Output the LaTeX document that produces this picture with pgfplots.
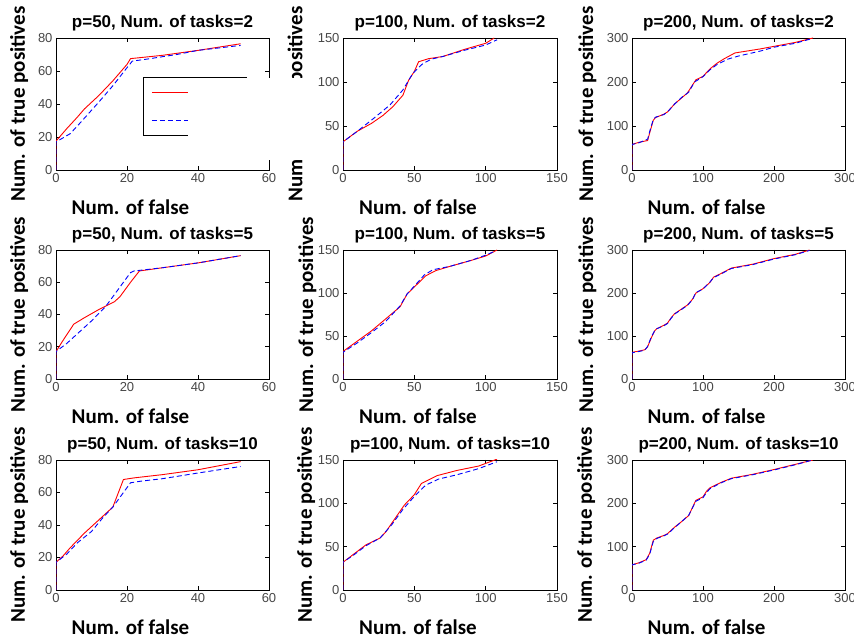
\documentclass[border=0pt]{standalone}
\usepackage{fontspec}
\setmainfont{Liberation Sans}
\newfontfamily\labfont{Carlito}
\usepackage{pgfplots}
\pgfplotsset{compat=1.18}

\pgfplotsset{
  panel/.style={
    scale only axis, width=213pt,
    xmin=0, ymin=0,
    axis line style={black, line width=0.8pt},
    tick align=inside, major tick length=4pt,
    tick style={black, line width=0.6pt},
    every tick label/.append style={font=\fontsize{13}{15}\selectfont, text=black!72},
    /pgf/number format/assume math mode=true,
    every axis title/.style={at={(0.5,1)}, anchor=base, yshift=10.5pt,
      font=\fontsize{17}{20}\selectfont\bfseries},
    every axis x label/.style={at={(axis description cs:0.5,0)}, anchor=base,
      xshift=-32pt, yshift=-45pt, font=\labfont\bfseries\fontsize{21}{24}\selectfont},
    every axis y label/.style={at={(axis description cs:#1,0.5)}, rotate=90,
      anchor=base, font=\labfont\bfseries\fontsize{21}{24}\selectfont},
    xlabel={Num. of false}, ylabel={Num. of true positives},
  },
  p50/.style={xmax=60, ymax=80, xtick={0,20,40,60}, ytick={0,20,40,60,80}},
  p100/.style={xmax=150, ymax=150, xtick={0,50,100,150}, ytick={0,50,100,150}},
  p200/.style={xmax=300, ymax=300, xtick={0,100,200,300}, ytick={0,100,200,300}},
  rline/.style={red, line width=0.9pt},
  bline/.style={blue, line width=0.9pt, dash pattern=on 5pt off 3pt},
}

\begin{document}
\begin{tikzpicture}
\useasboundingbox (0,0) rectangle (854pt,642pt);
\clip (0,0) rectangle (854pt,642pt);

% row 1
\begin{axis}[panel=-0.146, p50, at={(56pt,472pt)}, anchor=south west, height=132pt,
  title={p=50, Num. of tasks=2},
  legend style={at={(0.408,0.705)}, anchor=north west, draw=black, line width=0.8pt,
    fill=white, inner xsep=8pt, inner ysep=11pt, row sep=19pt, nodes={inner sep=0pt}},
  legend image code/.code={\draw[#1] (0pt,0pt) -- (37pt,0pt);}]
\addplot[rline] coordinates {(0,0) (0,17.5) (1,20) (3,25) (6,32) (8,37) (12,45) (16,54) (20,64) (21,67.5) (30,69.5) (40,72.5) (52,76.5)};
\addlegendentry{\makebox[49pt]{\rule[-7pt]{0pt}{14pt}}}
\addplot[bline] coordinates {(0,0) (0,17) (4,22) (7,29) (12,41) (16,51) (20,62) (21.5,66) (25,67) (34,70) (40,72.5) (52,75.5)};
\addlegendentry{\makebox[49pt]{\rule[-10pt]{0pt}{17pt}}}
\end{axis}

\begin{axis}[panel=-0.19, p100, at={(343pt,472pt)}, anchor=south west, height=132pt,
  width=214pt, title={p=100, Num. of tasks=2}]
\addplot[rline] coordinates {(0,0) (0,32) (10,44) (20,53) (28,62) (35,72) (42,85) (46,102) (50,112) (53,123) (60,126.5) (70,129) (85,137) (100,144) (106,150)};
\addplot[bline] coordinates {(0,0) (0,32) (10,44) (21,58) (33,74) (42,91) (49,110) (56,121) (62,126) (70,129) (85,136) (100,142) (108,148)};
\end{axis}

\begin{axis}[panel=-0.183, p200, at={(632pt,472pt)}, anchor=south west, height=132pt,
  title={p=200, Num. of tasks=2}]
\addplot[rline] coordinates {(0,0) (0,58) (10,63) (22,67) (25,85) (30,113) (33,119) (45,127) (50,132) (60,150) (70,164) (78,175) (84,190) (90,205) (100,213) (110,230) (120,243) (130,253) (145,266) (180,275) (200,281) (230,290) (255,300)};
\addplot[bline] coordinates {(0,0) (0,58) (10,62) (22,70) (25,88) (30,115) (33,120) (45,126) (50,132) (60,150) (70,165) (80,177) (88,200) (100,212) (110,228) (120,240) (135,252) (150,259) (180,270) (200,279) (230,288) (252,298)};
\end{axis}

% row 2
\begin{axis}[panel=-0.146, p50, at={(56pt,263pt)}, anchor=south west, height=129pt,
  title={p=50, Num. of tasks=5}]
\addplot[rline] coordinates {(0,0) (0,17) (2,24) (5,34) (8,38) (12,43) (16.5,48) (18,51) (21,60) (23.5,67) (30,69) (40,72) (52,76.5)};
\addplot[bline] coordinates {(0,0) (0,17) (3,22) (6,28) (10,36) (14,45) (18,57) (21,66) (22,67) (30,69) (40,72) (52,76.5)};
\end{axis}

\begin{axis}[panel=-0.14, p100, at={(343pt,263pt)}, anchor=south west, height=129pt,
  width=214pt, title={p=100, Num. of tasks=5}]
\addplot[rline] coordinates {(0,0) (0,32) (10,44) (20,56) (30,70) (40,84) (45,99) (50,107) (58,120) (65,126) (75,131) (90,138) (100,143) (108,150)};
\addplot[bline] coordinates {(0,0) (0,31) (10,42) (20,54) (30,67) (40,85) (45,99) (50,108) (57,121) (63,127) (75,131) (90,138) (100,144) (107,149)};
\end{axis}

\begin{axis}[panel=-0.183, p200, at={(632pt,263pt)}, anchor=south west, height=129pt,
  title={p=200, Num. of tasks=5}]
\addplot[rline] coordinates {(0,0) (0,62) (10,65) (18,68) (22,75) (27,95) (32,112) (35,117) (45,125) (50,130) (55,142) (60,152) (70,163) (78,172) (85,185) (90,200) (100,210) (110,225) (115,237) (125,245) (140,258) (170,267) (200,280) (230,290) (250,300)};
\addplot[bline] coordinates {(0,0) (0,61) (10,64) (18,67) (22,76) (27,97) (32,113) (35,117) (45,124) (50,129) (55,141) (60,151) (70,162) (78,171) (85,184) (90,201) (100,209) (110,226) (115,236) (125,244) (140,257) (170,266) (200,279) (230,289) (250,299)};
\end{axis}

% row 3
\begin{axis}[panel=-0.146, p50, at={(56pt,52pt)}, anchor=south west, height=130pt,
  title={p=50, Num. of tasks=10}]
\addplot[rline] coordinates {(0,0) (0,17) (2,21) (4,26) (8,35) (12,43) (16,51) (19,68) (22,69) (30,71) (40,74) (52,79)};
\addplot[bline] coordinates {(0,0) (0,17) (3,22) (6,29) (10,36) (13,44) (16,51) (18,57) (21,66) (24,67) (30,68.5) (40,72) (52,76)};
\end{axis}

\begin{axis}[panel=-0.146, p100, at={(343pt,52pt)}, anchor=south west, height=130pt,
  width=214pt, title={p=100, Num. of tasks=10}]
\addplot[rline] coordinates {(0,0) (0,32) (8,42) (16,52) (26,60) (30,67) (35,79) (43,98) (50,110) (55,123) (60,127) (66,132) (80,138) (95,143) (108,151)};
\addplot[bline] coordinates {(0,0) (0,32) (8,41) (16,51) (26,60) (34,75) (42,93) (50,108) (58,121) (67,128) (80,133) (95,140) (108,148)};
\end{axis}

\begin{axis}[panel=-0.188, p200, at={(632pt,52pt)}, anchor=south west, height=130pt,
  title={p=200, Num. of tasks=10}]
\addplot[rline] coordinates {(0,0) (0,58) (10,63) (20,70) (25,85) (30,115) (35,120) (45,126) (50,130) (60,145) (70,158) (80,172) (85,190) (90,207) (100,215) (105,228) (110,236) (125,248) (140,258) (170,267) (200,278) (230,290) (255,300)};
\addplot[bline] coordinates {(0,0) (0,58) (10,62) (20,69) (25,83) (30,112) (35,119) (45,125) (50,129) (60,144) (70,158) (80,173) (85,189) (90,205) (100,213) (105,225) (110,234) (125,247) (140,257) (170,266) (200,277) (230,289) (252,299)};
\end{axis}

% white patch that hides part of the first legend and the next label
\fill[white] (188pt,564.2pt) rectangle (314pt,482pt);
\end{tikzpicture}
\end{document}
